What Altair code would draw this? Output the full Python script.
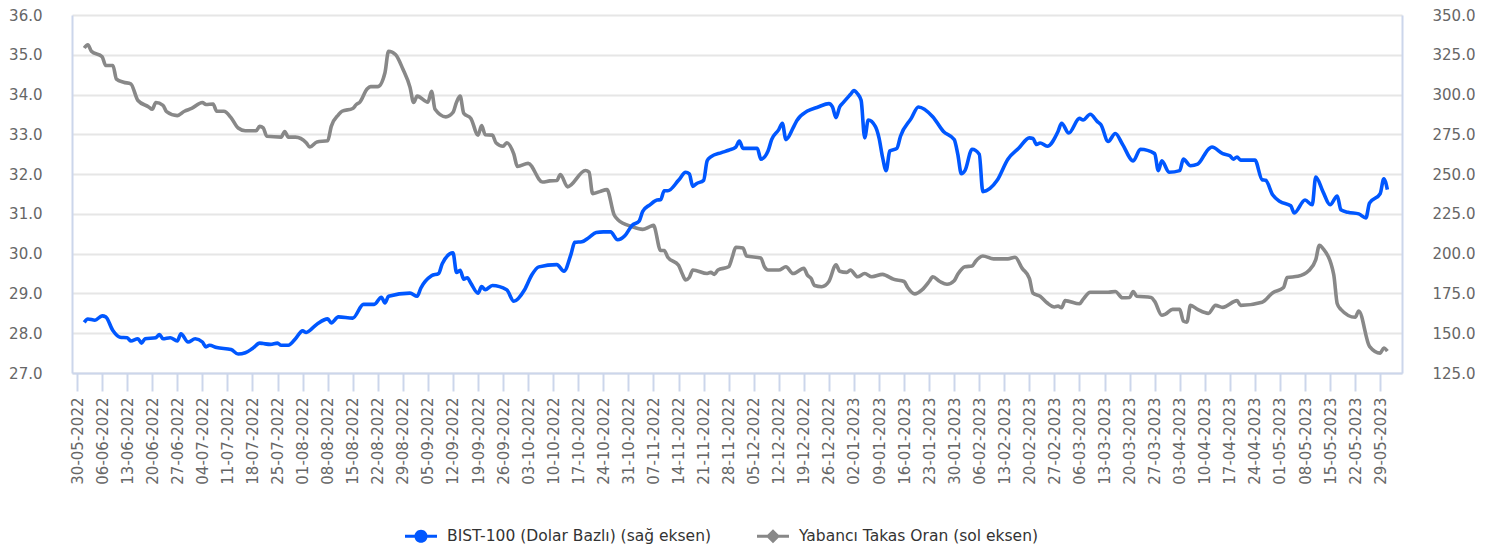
import altair as alt
import pandas as pd

# ---------------- data ----------------
series_names = ["BIST-100 (Dolar Bazlı) (sağ eksen)", "Yabancı Takas Oran (sol eksen)"]

gray_dates = [
    "2022-06-01","2022-06-02","2022-06-03","2022-06-06","2022-06-07","2022-06-09","2022-06-10","2022-06-12",
    "2022-06-14","2022-06-16","2022-06-19","2022-06-20","2022-06-21","2022-06-23","2022-06-24","2022-06-27",
    "2022-06-29","2022-07-01","2022-07-04","2022-07-05","2022-07-07","2022-07-08","2022-07-10","2022-07-12",
    "2022-07-14","2022-07-16","2022-07-19","2022-07-20","2022-07-21","2022-07-22","2022-07-26","2022-07-27",
    "2022-07-28","2022-07-30","2022-08-02","2022-08-03","2022-08-05","2022-08-08","2022-08-09","2022-08-11",
    "2022-08-12","2022-08-15","2022-08-16","2022-08-17","2022-08-19","2022-08-20","2022-08-22","2022-08-24",
    "2022-08-25","2022-08-27","2022-08-29","2022-08-31","2022-09-01","2022-09-02","2022-09-05","2022-09-06",
    "2022-09-07","2022-09-10","2022-09-12","2022-09-13","2022-09-14","2022-09-15","2022-09-17","2022-09-19",
    "2022-09-20","2022-09-21","2022-09-23","2022-09-24","2022-09-26","2022-09-27","2022-09-29","2022-09-30",
    "2022-10-03","2022-10-07","2022-10-09","2022-10-11","2022-10-12","2022-10-14","2022-10-19","2022-10-20",
    "2022-10-21","2022-10-23","2022-10-25","2022-10-27","2022-10-28","2022-11-01","2022-11-04","2022-11-06",
    "2022-11-07","2022-11-09","2022-11-10","2022-11-11","2022-11-14","2022-11-15","2022-11-16","2022-11-17",
    "2022-11-18","2022-11-22","2022-11-23","2022-11-24","2022-11-25","2022-11-28","2022-11-29","2022-11-30",
    "2022-12-02","2022-12-03","2022-12-07","2022-12-08","2022-12-09","2022-12-12","2022-12-14","2022-12-16",
    "2022-12-19","2022-12-20","2022-12-21","2022-12-22","2022-12-24","2022-12-26","2022-12-28","2022-12-29",
    "2022-12-31","2023-01-01","2023-01-03","2023-01-05","2023-01-07","2023-01-10","2023-01-11","2023-01-13",
    "2023-01-16","2023-01-17","2023-01-19","2023-01-21","2023-01-23","2023-01-24","2023-01-26","2023-01-28",
    "2023-01-30","2023-01-31","2023-02-02","2023-02-04","2023-02-05","2023-02-07","2023-02-10","2023-02-14",
    "2023-02-16","2023-02-18","2023-02-20","2023-02-21","2023-02-23","2023-02-25","2023-02-27","2023-02-28",
    "2023-03-01","2023-03-02","2023-03-06","2023-03-07","2023-03-09","2023-03-14","2023-03-16","2023-03-18",
    "2023-03-20","2023-03-21","2023-03-22","2023-03-26","2023-03-27","2023-03-29","2023-03-30","2023-04-01",
    "2023-04-03","2023-04-04","2023-04-05","2023-04-06","2023-04-08","2023-04-11","2023-04-13","2023-04-15",
    "2023-04-19","2023-04-20","2023-04-26","2023-04-29","2023-05-02","2023-05-03","2023-05-06","2023-05-09",
    "2023-05-11","2023-05-12","2023-05-13","2023-05-16","2023-05-17","2023-05-18","2023-05-22","2023-05-23",
    "2023-05-26","2023-05-29","2023-05-30","2023-05-31",
]
gray_values = [
    35.17,35.25,35.09,34.95,34.73,34.73,34.39,34.31,
    34.27,33.85,33.69,33.63,33.80,33.73,33.57,33.47,
    33.58,33.65,33.80,33.75,33.76,33.58,33.58,33.42,
    33.16,33.09,33.09,33.20,33.16,32.95,32.93,33.07,
    32.93,32.93,32.79,32.68,32.81,32.84,33.20,33.49,
    33.58,33.65,33.75,33.81,34.14,34.20,34.20,34.55,
    35.09,35.00,34.64,34.18,33.80,33.96,33.81,34.08,
    33.63,33.44,33.55,33.81,33.96,33.53,33.40,32.98,
    33.22,32.99,32.98,32.79,32.70,32.79,32.50,32.19,
    32.27,31.80,31.83,31.84,31.99,31.68,32.09,32.05,
    31.51,31.56,31.61,30.98,30.86,30.68,30.61,30.68,
    30.71,30.08,30.08,29.91,29.71,29.50,29.34,29.40,
    29.59,29.50,29.53,29.48,29.59,29.67,29.91,30.16,
    30.14,29.94,29.89,29.67,29.59,29.59,29.67,29.50,
    29.63,29.46,29.38,29.20,29.17,29.30,29.72,29.56,
    29.53,29.59,29.42,29.50,29.42,29.48,29.45,29.36,
    29.30,29.15,28.99,29.09,29.30,29.42,29.30,29.23,
    29.32,29.48,29.67,29.69,29.81,29.94,29.87,29.87,
    29.91,29.63,29.38,29.01,28.93,28.76,28.66,28.68,
    28.64,28.82,28.74,28.85,29.03,29.03,29.05,28.89,
    28.90,29.05,28.93,28.90,28.80,28.45,28.48,28.60,
    28.60,28.31,28.28,28.70,28.60,28.50,28.70,28.65,
    28.82,28.70,28.78,29.02,29.15,29.40,29.43,29.57,
    29.85,30.21,30.13,29.48,28.74,28.60,28.40,28.56,
    27.67,27.50,27.63,27.55,
]

blue_dates = [
    "2022-06-01","2022-06-02","2022-06-04","2022-06-06","2022-06-07","2022-06-09","2022-06-11","2022-06-13",
    "2022-06-14","2022-06-16","2022-06-17","2022-06-18","2022-06-21","2022-06-22","2022-06-23","2022-06-25",
    "2022-06-27","2022-06-28","2022-06-30","2022-07-02","2022-07-04","2022-07-05","2022-07-06","2022-07-08",
    "2022-07-12","2022-07-14","2022-07-16","2022-07-18","2022-07-20","2022-07-21","2022-07-23","2022-07-25",
    "2022-07-26","2022-07-28","2022-07-30","2022-08-01","2022-08-02","2022-08-05","2022-08-08","2022-08-09",
    "2022-08-11","2022-08-15","2022-08-18","2022-08-21","2022-08-23","2022-08-24","2022-08-25","2022-08-31",
    "2022-09-02","2022-09-03","2022-09-06","2022-09-08","2022-09-09","2022-09-12","2022-09-13","2022-09-14",
    "2022-09-15","2022-09-16","2022-09-17","2022-09-19","2022-09-20","2022-09-21","2022-09-23","2022-09-27",
    "2022-09-29","2022-10-02","2022-10-04","2022-10-06","2022-10-11","2022-10-13","2022-10-15","2022-10-16",
    "2022-10-18","2022-10-20","2022-10-22","2022-10-24","2022-10-26","2022-10-28","2022-10-30","2022-11-01",
    "2022-11-03","2022-11-04","2022-11-06","2022-11-08","2022-11-09","2022-11-10","2022-11-11","2022-11-14",
    "2022-11-16","2022-11-17","2022-11-18","2022-11-19","2022-11-21","2022-11-22","2022-11-23","2022-11-26",
    "2022-11-28","2022-11-30","2022-12-01","2022-12-02","2022-12-06","2022-12-07","2022-12-09","2022-12-10",
    "2022-12-12","2022-12-13","2022-12-14","2022-12-16","2022-12-17","2022-12-20","2022-12-23","2022-12-26",
    "2022-12-27","2022-12-28","2022-12-29","2022-12-30","2023-01-01","2023-01-02","2023-01-03","2023-01-04",
    "2023-01-05","2023-01-06","2023-01-08","2023-01-09","2023-01-10","2023-01-11","2023-01-12","2023-01-14",
    "2023-01-15","2023-01-18","2023-01-20","2023-01-24","2023-01-27","2023-01-30","2023-01-31","2023-02-01",
    "2023-02-02","2023-02-04","2023-02-06","2023-02-07","2023-02-09","2023-02-11","2023-02-14","2023-02-17",
    "2023-02-20","2023-02-21","2023-02-22","2023-02-23","2023-02-25","2023-02-28","2023-03-01","2023-03-03",
    "2023-03-06","2023-03-07","2023-03-09","2023-03-11","2023-03-12","2023-03-14","2023-03-16","2023-03-18",
    "2023-03-21","2023-03-23","2023-03-27","2023-03-28","2023-03-29","2023-03-31","2023-04-03","2023-04-04",
    "2023-04-06","2023-04-08","2023-04-11","2023-04-12","2023-04-15","2023-04-17","2023-04-18","2023-04-19",
    "2023-04-20","2023-04-24","2023-04-26","2023-04-27","2023-04-29","2023-05-01","2023-05-04","2023-05-05",
    "2023-05-08","2023-05-10","2023-05-11","2023-05-13","2023-05-15","2023-05-17","2023-05-18","2023-05-20",
    "2023-05-23","2023-05-25","2023-05-26","2023-05-29","2023-05-30","2023-05-31",
]
blue_values = [
    156.8,158.9,158.2,160.9,160.3,151.7,147.5,147.2,
    145.1,146.5,143.8,146.5,147.2,149.2,146.5,147.2,
    145.1,149.6,144.5,146.5,144.5,141.4,142.4,141.0,
    139.8,136.9,137.7,140.4,143.8,143.5,143.0,143.8,
    142.4,142.4,146.5,151.5,150.5,155.7,159.0,156.5,
    160.3,159.5,168.1,168.1,172.6,169.1,173.2,175.2,
    173.2,178.3,186.1,187.6,193.7,200.5,188.2,189.6,
    184.0,184.9,181.4,175.2,179.3,177.3,180.0,177.3,
    170.1,177.3,186.6,191.7,193.1,189.0,199.9,207.1,
    207.5,210.2,213.3,213.7,213.7,208.7,211.2,217.7,
    220.5,226.6,230.7,233.7,233.9,239.5,239.5,246.1,
    251.2,250.2,242.3,244.0,246.1,258.4,260.8,263.5,
    265.0,267.0,270.8,266.2,266.2,259.4,264.5,271.7,
    278.0,282.0,271.7,279.0,283.5,289.6,292.2,294.3,
    292.2,285.5,292.2,294.9,300.0,302.5,300.5,296.4,
    272.8,284.0,279.9,272.8,260.5,252.2,264.5,266.2,
    273.8,285.0,292.2,286.1,276.8,271.7,262.5,250.2,
    252.2,265.6,262.5,239.0,241.0,246.1,259.4,266.2,
    272.8,272.4,268.6,269.6,267.5,276.8,282.0,275.8,
    285.0,284.0,287.6,283.0,281.0,270.5,275.5,268.8,
    258.3,265.6,262.9,252.2,258.3,251.2,252.2,259.4,
    255.3,256.3,265.6,267.0,262.9,261.5,259.4,260.8,
    258.8,258.8,246.5,246.1,236.8,232.8,230.1,225.6,
    233.7,230.7,248.2,239.0,230.7,236.2,227.6,226.0,
    225.0,222.5,231.7,237.8,247.1,240.3,
]

tick_labels = [
    "30-05-2022","06-06-2022","13-06-2022","20-06-2022","27-06-2022","04-07-2022","11-07-2022",
    "18-07-2022","25-07-2022","01-08-2022","08-08-2022","15-08-2022","22-08-2022","29-08-2022",
    "05-09-2022","12-09-2022","19-09-2022","26-09-2022","03-10-2022","10-10-2022","17-10-2022",
    "24-10-2022","31-10-2022","07-11-2022","14-11-2022","21-11-2022","28-11-2022","05-12-2022",
    "12-12-2022","19-12-2022","26-12-2022","02-01-2023","09-01-2023","16-01-2023","23-01-2023",
    "30-01-2023","06-02-2023","13-02-2023","20-02-2023","27-02-2023","06-03-2023","13-03-2023",
    "20-03-2023","27-03-2023","03-04-2023","10-04-2023","17-04-2023","24-04-2023","01-05-2023",
    "08-05-2023","15-05-2023","22-05-2023","29-05-2023",
]
left_ticks = [27, 28, 29, 30, 31, 32, 33, 34, 35, 36]
right_ticks = [125, 150, 175, 200, 225, 250, 275, 300, 325, 350]

# ---------------- styling ----------------
BLUE = "#0057ff"
GRAY = "#888888"
AXIS_BLUE = "#ccd6eb"
GRID = "#e6e6e6"
FONT = "DejaVu Sans"

circle_sym = ("M-1,-0.094H1V0.094H-1Z "
              "M0.41,0A0.41,0.41 0 1,1 -0.41,0A0.41,0.41 0 1,1 0.41,0Z")
diamond_sym = ("M-1,-0.094H1V0.094H-1Z "
               "M0,-0.44L0.44,0L0,0.44L-0.44,0Z")


def to_dt(label):
    d, m, y = label.split("-")
    return alt.DateTime(year=int(y), month=int(m), date=int(d), utc=True)


tick_values = [to_dt(t) for t in tick_labels]

gray_df = pd.DataFrame({"date": gray_dates, "value": gray_values})
blue_df = pd.DataFrame({"date": blue_dates, "value": blue_values})
legend_df = pd.DataFrame({"series": series_names})

x_enc = alt.X(
    "date:T",
    title=None,
    scale=alt.Scale(
        type="utc",
        domain=[alt.DateTime(year=2022, month=5, date=28, hours=14, utc=True),
                alt.DateTime(year=2023, month=6, date=4, hours=2, utc=True)],
    ),
    axis=alt.Axis(
        values=tick_values, format="%d-%m-%Y", labelAngle=270, grid=False,
        tickSize=18, tickWidth=2, tickColor=AXIS_BLUE, domainColor=AXIS_BLUE,
        domainWidth=2, labelPadding=6, labelFontSize=15, labelColor="#666666",
        labelOverlap=False, labelFlush=False, labelFont=FONT,
    ),
)

gray_line = alt.Chart(gray_df).mark_line(
    color=GRAY, strokeWidth=3.6, interpolate="monotone"
).encode(
    x=x_enc,
    y=alt.Y(
        "value:Q", title=None,
        scale=alt.Scale(domain=[27, 36], nice=False, zero=False),
        axis=alt.Axis(orient="left", values=left_ticks, format=".1f", ticks=False,
                      tickSize=0, labelPadding=30, domainColor=AXIS_BLUE, domainWidth=2,
                      grid=True, gridColor=GRID, gridWidth=2, labelFontSize=15,
                      labelColor="#666666", labelFont=FONT),
    ),
)

blue_line = alt.Chart(blue_df).mark_line(
    color=BLUE, strokeWidth=3.6, interpolate="monotone"
).encode(
    x=x_enc,
    y=alt.Y(
        "value:Q", title=None,
        scale=alt.Scale(domain=[125, 350], nice=False, zero=False),
        axis=alt.Axis(orient="right", values=right_ticks, format=".1f", ticks=False,
                      tickSize=0, labelPadding=30, domainColor=AXIS_BLUE, domainWidth=2,
                      grid=False, labelFontSize=15, labelColor="#666666", labelFont=FONT),
    ),
)

legend_props = dict(title=None, orient="none", legendX=333, legendY=505,
                    direction="horizontal", labelLimit=0)

legend_pts = alt.Chart(legend_df).mark_point(filled=True, opacity=0).encode(
    x=alt.value(0),
    y=alt.value(0),
    color=alt.Color("series:N", scale=alt.Scale(domain=series_names, range=[BLUE, GRAY]),
                    legend=alt.Legend(**legend_props)),
    shape=alt.Shape("series:N", scale=alt.Scale(domain=series_names, range=[circle_sym, diamond_sym]),
                    legend=alt.Legend(**legend_props)),
)

chart = alt.layer(gray_line, blue_line, legend_pts).resolve_scale(
    y="independent"
).properties(
    width=1330, height=358,
    padding={"left": 0, "top": 0, "right": 0, "bottom": 0},
).configure(
    font=FONT,
).configure_view(
    stroke=None,
).configure_legend(
    symbolSize=1024, labelFontSize=15.5, labelColor="#333333", labelFont=FONT,
    symbolOpacity=1, labelOffset=10, columnPadding=46, padding=0, symbolStrokeWidth=0,
    labelLimit=0,
)

chart.save("out.html", embed_options={"renderer": "svg", "actions": False})
